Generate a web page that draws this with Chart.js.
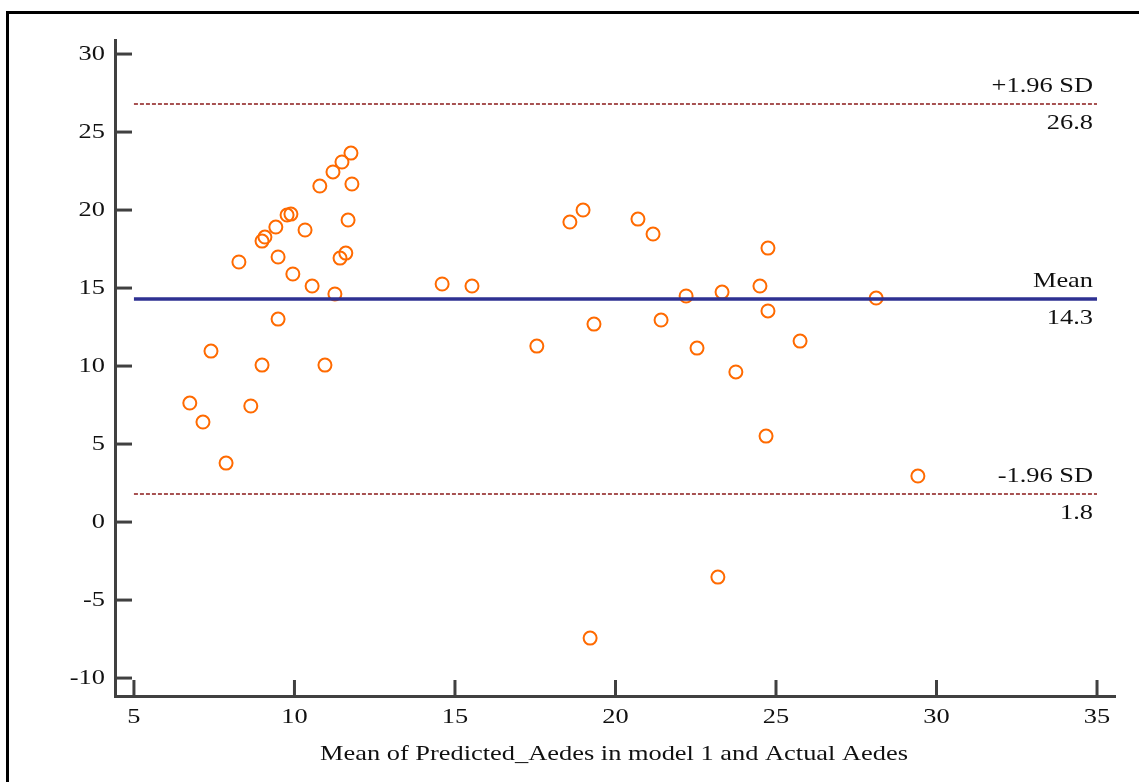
<!DOCTYPE html>
<html>
<head>
<meta charset="utf-8">
<script src="https://cdn.jsdelivr.net/npm/chart.js@4"></script>
<style>
  body { margin: 0; background: #fff; }
  #wrap { position: relative; width: 1139px; height: 782px; }
  #frame { position: absolute; left: 6px; top: 11px; right: -5px; bottom: -5px; border-left: 3px solid #000; border-top: 3px solid #000; pointer-events: none; }
  canvas { position: absolute; left: 0; top: 0; }
</style>
</head>
<body>
<div id="wrap">
  <canvas id="chart" width="1139" height="782"></canvas>
  <div id="frame"></div>
</div>
<script>
// Mean of the two measures (x) and their difference (y)
const meanValues = [
    6.74, 7.15, 7.40, 7.87, 8.27, 8.64, 8.99, 9.08, 8.99, 9.42,
    9.49, 9.49, 9.77, 9.89, 9.95, 10.33, 10.55, 10.79, 10.95, 11.20,
    11.26, 11.48, 11.42, 11.60, 11.67, 11.76, 11.79,
    14.60, 15.53, 17.55, 18.58, 18.99, 19.21, 19.33, 20.70, 21.17, 21.42,
    22.20, 22.54, 23.19, 23.32, 23.75, 24.50, 24.75, 24.75, 24.69, 25.75,
    28.12, 29.42
];
const diffValues = [
    7.63, 6.41, 10.96, 3.78, 16.67, 7.44, 18.01, 18.27, 10.06, 18.91,
    16.99, 13.01, 19.68, 19.74, 15.90, 18.72, 15.13, 21.54, 10.06, 22.44,
    14.62, 23.08, 16.92, 17.24, 19.36, 23.65, 21.67,
    15.26, 15.13, 11.28, 19.23, 20.00, -7.44, 12.69, 19.42, 18.46, 12.95,
    14.49, 11.15, -3.53, 14.74, 9.62, 15.13, 17.56, 13.53, 5.51, 11.60,
    14.36, 2.95
];

const meanDiff = 14.3;
const upperLimit = 26.8;
const lowerLimit = 1.8;
const xTicks = [5, 10, 15, 20, 25, 30, 35];
const yTicks = [-10, -5, 0, 5, 10, 15, 20, 25, 30];
const xTitle = 'Mean of Predicted_Aedes in model 1 and Actual Aedes';
const refLabels = [
    { value: upperLimit, above: '+1.96 SD', below: '26.8' },
    { value: meanDiff, above: 'Mean', below: '14.3' },
    { value: lowerLimit, above: '-1.96 SD', below: '1.8' }
];

const serif = '"Liberation Serif", "Times New Roman", serif';
const axisColor = '#404040';
const stretch = 1.2; // the original text is drawn wide

function hLine(y) {
    return [{ x: xTicks[0], y: y }, { x: xTicks[xTicks.length - 1], y: y }];
}

function wideText(ctx, text, x, y) {
    ctx.save();
    ctx.translate(x, y);
    ctx.scale(stretch, 1);
    ctx.fillText(text, 0, 0);
    ctx.restore();
}

// inward tick marks, stretched labels, reference line captions
const extrasPlugin = {
    id: 'extras',
    afterDraw(chart) {
        const ctx = chart.ctx;
        const xs = chart.scales.x, ys = chart.scales.y;
        const area = chart.chartArea;
        ctx.save();
        ctx.strokeStyle = axisColor;
        ctx.lineWidth = 3;
        xTicks.forEach(v => {
            const px = xs.getPixelForValue(v);
            ctx.beginPath();
            ctx.moveTo(px, area.bottom);
            ctx.lineTo(px, area.bottom - 16);
            ctx.stroke();
        });
        yTicks.forEach(v => {
            const py = ys.getPixelForValue(v);
            ctx.beginPath();
            ctx.moveTo(area.left, py);
            ctx.lineTo(area.left + 17, py);
            ctx.stroke();
        });

        ctx.fillStyle = '#111';
        ctx.font = '22px ' + serif;

        // x tick labels
        ctx.textAlign = 'center';
        ctx.textBaseline = 'alphabetic';
        xTicks.forEach(v => wideText(ctx, String(v), xs.getPixelForValue(v), area.bottom + 27));

        // axis title
        wideText(ctx, xTitle, (area.left + area.right) / 2 - 1, area.bottom + 64);

        // y tick labels
        ctx.textAlign = 'right';
        ctx.textBaseline = 'middle';
        yTicks.forEach(v => wideText(ctx, String(v), area.left - 10, ys.getPixelForValue(v)));

        // captions for the limits of agreement
        ctx.textBaseline = 'alphabetic';
        const rx = xs.getPixelForValue(35) - 4;
        refLabels.forEach(r => {
            const py = ys.getPixelForValue(r.value);
            wideText(ctx, r.above, rx, py - 12);
            wideText(ctx, r.below, rx, py + 25);
        });
        ctx.restore();
    }
};

new Chart(document.getElementById('chart').getContext('2d'), {
    type: 'scatter',
    data: {
        datasets: [
            {
                type: 'line',
                data: hLine(upperLimit),
                borderColor: '#8b1a1a',
                borderWidth: 1.5,
                borderDash: [4, 2],
                pointRadius: 0
            },
            {
                type: 'line',
                data: hLine(lowerLimit),
                borderColor: '#8b1a1a',
                borderWidth: 1.5,
                borderDash: [4, 2],
                pointRadius: 0
            },
            {
                type: 'line',
                data: hLine(meanDiff),
                borderColor: '#2e3192',
                borderWidth: 3.5,
                pointRadius: 0
            },
            {
                label: 'Differences',
                data: meanValues.map((m, i) => ({ x: m, y: diffValues[i] })),
                pointRadius: 6.5,
                pointBorderWidth: 2,
                borderColor: '#ff6a00',
                backgroundColor: 'rgba(0,0,0,0)'
            }
        ]
    },
    options: {
        responsive: false,
        animation: false,
        layout: { padding: { top: 40, right: 24, left: 0, bottom: 0 } },
        plugins: { legend: { display: false }, tooltip: { enabled: false } },
        scales: {
            x: {
                type: 'linear',
                min: 4.41,
                max: 35.56,
                afterBuildTicks: s => { s.ticks = xTicks.map(v => ({ value: v })); },
                afterFit: s => { s.height = 86; },
                grid: { drawOnChartArea: false, drawTicks: false },
                border: { display: true, color: axisColor, width: 3 },
                ticks: { display: false }
            },
            y: {
                type: 'linear',
                min: -11.15,
                max: 30.9,
                afterBuildTicks: s => { s.ticks = yTicks.map(v => ({ value: v })); },
                afterFit: s => { s.width = 115; },
                grid: { drawOnChartArea: false, drawTicks: false },
                border: { display: true, color: axisColor, width: 3 },
                ticks: { display: false }
            }
        }
    },
    plugins: [extrasPlugin]
});
</script>
</body>
</html>
